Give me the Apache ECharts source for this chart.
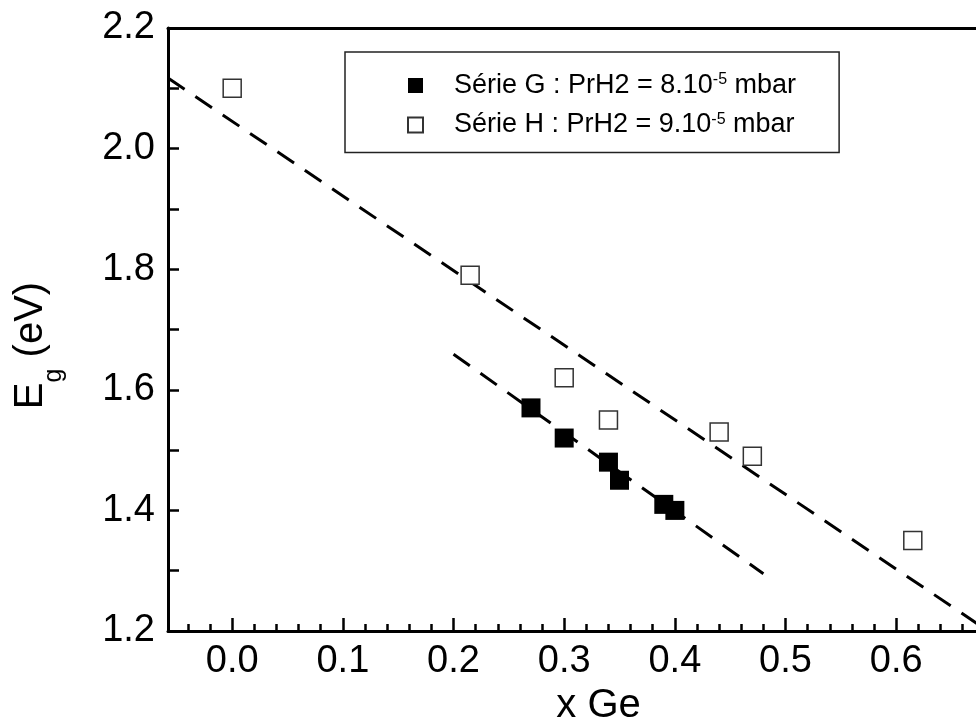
<!DOCTYPE html>
<html>
<head>
<meta charset="utf-8">
<script src="https://cdn.jsdelivr.net/npm/echarts@6/dist/echarts.min.js"></script>
<style>
html,body{margin:0;padding:0;background:#fff;overflow:hidden;}
#chart{width:976px;height:724px;}
</style>
</head>
<body>
<div id="chart"></div>
<script>
// ---- data ----
const serieG_x = [0.27, 0.30, 0.34, 0.35, 0.39, 0.40];
const serieG_y = [1.57, 1.52, 1.48, 1.45, 1.41, 1.40];
const serieH_x = [0.00, 0.215, 0.30, 0.34, 0.44, 0.47, 0.615];
const serieH_y = [2.10, 1.79, 1.62, 1.55, 1.53, 1.49, 1.35];
const fitG_x = [0.20, 0.48];
const fitG_y = [1.659, 1.295];
const fitH_x = [-0.058, 0.683];
const fitH_y = [2.117, 1.20];
const xTickLabels = [0.0, 0.1, 0.2, 0.3, 0.4, 0.5, 0.6];
const xMajorTicks = [0.0, 0.1, 0.2, 0.3, 0.4, 0.5, 0.6, 0.7];
const xMinorTicks = [-0.04, -0.02, 0.02, 0.04, 0.06, 0.08, 0.12, 0.14, 0.16, 0.18, 0.22, 0.24, 0.26, 0.28,
  0.32, 0.34, 0.36, 0.38, 0.42, 0.44, 0.46, 0.48, 0.52, 0.54, 0.56, 0.58, 0.62, 0.64, 0.66, 0.68];
const seriesNames = ['Série G', 'Série H'];
const legendMain = ['Série G : PrH2 = 8.10', 'Série H : PrH2 = 9.10'];
const legendExp = ['-5', '-5'];
const legendUnit = [' mbar', ' mbar'];

const zip = (xs, ys) => xs.map((x, i) => [x, ys[i]]);

const FONT = 'Liberation Sans, Arial, sans-serif';
const xMin = -0.058, xMax = 0.72;

const chart = echarts.init(document.getElementById('chart'), null, {renderer: 'canvas'});
const option = {
  animation: false,
  backgroundColor: '#fff',
  textStyle: {fontFamily: FONT},
  grid: {left: 168, top: 28, width: 861, height: 603, containLabel: false, outerBoundsMode: 'none'},
  legend: {
    orient: 'vertical',
    left: 345, top: 52,
    padding: [20, 43, 14, 62],
    itemGap: 12.5,
    itemWidth: 15, itemHeight: 15,
    borderColor: '#222', borderWidth: 1.5,
    data: [
      {name: seriesNames[0], icon: 'rect'},
      {name: seriesNames[1], icon: 'rect'}
    ],
    formatter: function (name) {
      const i = seriesNames.indexOf(name);
      return '{t|' + legendMain[i] + '}{s|' + legendExp[i] + '}{t|' + legendUnit[i] + '}';
    },
    textStyle: {
      padding: [0, 0, 0, 26],
      rich: {
        t: {fontFamily: FONT, fontSize: 27, lineHeight: 27, color: '#000', verticalAlign: 'top'},
        s: {fontFamily: FONT, fontSize: 16, lineHeight: 16, color: '#000', verticalAlign: 'top'}
      }
    }
  },
  xAxis: [
    {
      type: 'value', position: 'bottom', min: xMin, max: xMax,
      name: 'x Ge', nameLocation: 'middle', nameGap: 50,
      nameTextStyle: {fontFamily: FONT, fontSize: 40, color: '#000'},
      axisLine: {show: true, onZero: false, lineStyle: {color: '#000', width: 3}},
      axisTick: {show: true, inside: true, length: 13, customValues: xMajorTicks, lineStyle: {color: '#000', width: 2.5}},
      axisLabel: {show: true, customValues: xTickLabels, margin: 12, fontFamily: FONT, fontSize: 38, color: '#000',
        formatter: v => v.toFixed(1)},
      splitLine: {show: false}
    },
    {
      type: 'value', position: 'bottom', min: xMin, max: xMax, gridIndex: 0,
      axisLine: {show: false, onZero: false},
      axisTick: {show: true, inside: true, length: 7, customValues: xMinorTicks, lineStyle: {color: '#000', width: 2.5}},
      axisLabel: {show: false},
      splitLine: {show: false}
    },
    {
      type: 'value', position: 'top', min: xMin, max: xMax, gridIndex: 0,
      axisLine: {show: true, onZero: false, lineStyle: {color: '#000', width: 3}},
      axisTick: {show: false},
      axisLabel: {show: false},
      splitLine: {show: false}
    }
  ],
  yAxis: [
    {
      type: 'value', min: 1.2, max: 2.2, interval: 0.2,
      name: '{a|E}{b|g}{a| (eV)}', nameLocation: 'middle', nameGap: 117, nameRotate: 90,
      nameTextStyle: {
        padding: [0, 32, 0, 0],
        rich: {
          a: {fontFamily: FONT, fontSize: 40, lineHeight: 40, color: '#000', verticalAlign: 'top'},
          b: {fontFamily: FONT, fontSize: 25, lineHeight: 25, color: '#000', verticalAlign: 'top', padding: [31, 0, 0, 0]}
        }
      },
      axisLine: {show: true, onZero: false, lineStyle: {color: '#000', width: 3}},
      axisTick: {show: true, inside: true, length: 11, lineStyle: {color: '#000', width: 2.5}},
      minorTick: {show: true, splitNumber: 2, length: 11, lineStyle: {color: '#000', width: 2.5}},
      axisLabel: {margin: 13, fontFamily: FONT, fontSize: 38, color: '#000', formatter: v => v.toFixed(1)},
      splitLine: {show: false}
    }
  ],
  series: [
    {
      name: 'fitG', type: 'line', xAxisIndex: 0, data: zip(fitG_x, fitG_y), symbol: 'none',
      lineStyle: {color: '#000', width: 3, type: [20, 13]}, silent: true, z: 1
    },
    {
      name: 'fitH', type: 'line', xAxisIndex: 0, data: zip(fitH_x, fitH_y), symbol: 'none',
      lineStyle: {color: '#000', width: 3, type: [20, 13]}, silent: true, z: 1
    },
    {
      name: seriesNames[0], type: 'scatter', xAxisIndex: 0, data: zip(serieG_x, serieG_y),
      symbol: 'rect', symbolSize: 19,
      itemStyle: {color: '#000', borderColor: '#000', borderWidth: 0, opacity: 1}, z: 3
    },
    {
      name: seriesNames[1], type: 'scatter', xAxisIndex: 0, data: zip(serieH_x, serieH_y),
      symbol: 'rect', symbolSize: 18,
      itemStyle: {color: '#fff', borderColor: '#333', borderWidth: 1.5, opacity: 1}, z: 3
    }
  ]
};
chart.setOption(option);
</script>
</body>
</html>
